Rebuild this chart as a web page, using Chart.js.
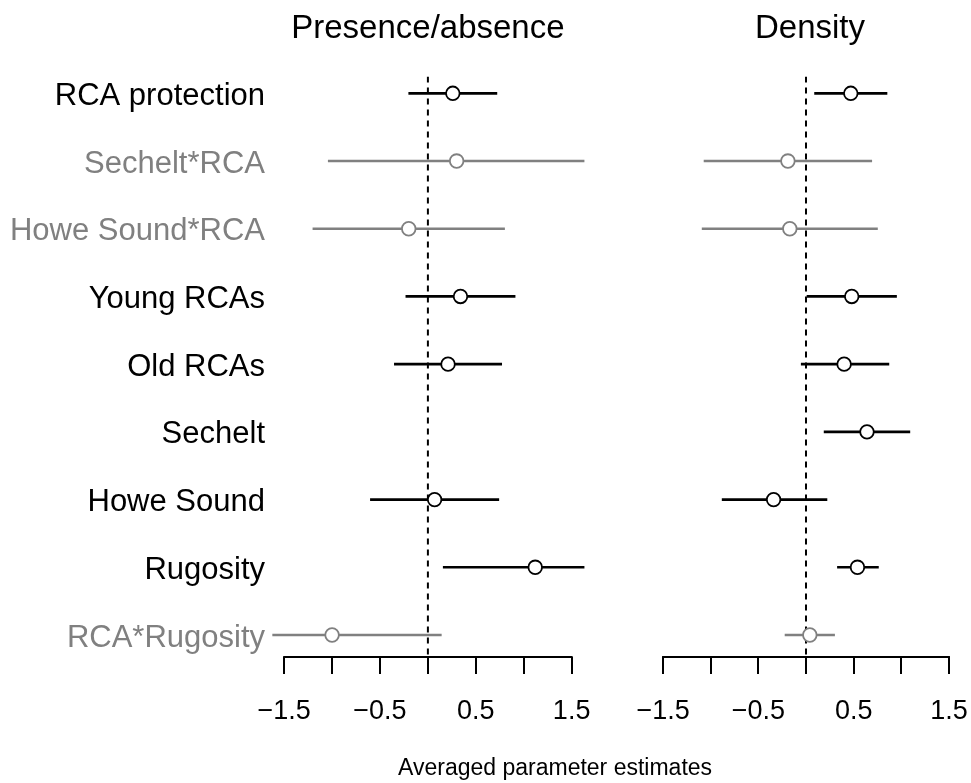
<!DOCTYPE html>
<html>
<head>
<meta charset="utf-8">
<script src="https://cdn.jsdelivr.net/npm/chart.js@4.4.1/dist/chart.umd.min.js"></script>
<style>
    html, body { margin: 0; padding: 0; background: #fff; }
    body { width: 971px; height: 783px; position: relative; overflow: hidden; font-family: "Liberation Sans", Arial, sans-serif; }
    canvas { position: absolute; top: 0; }
    #presChart { left: 0; }
    #densChart { left: 560px; }
    .xlab { position: absolute; left: 398px; top: 753px; font-size: 23px; line-height: 28px; white-space: nowrap; color: #000; }
</style>
</head>
<body>
<canvas id="presChart" width="630" height="783"></canvas>
<canvas id="densChart" width="430" height="783"></canvas>
<div class="xlab">Averaged parameter estimates</div>

<script>
// Row labels (top to bottom)
const categories = ['RCA protection', 'Sechelt*RCA', 'Howe Sound*RCA', 'Young RCAs', 'Old RCAs', 'Sechelt', 'Howe Sound', 'Rugosity', 'RCA*Rugosity'];
// interaction terms are drawn in grey
const greyRows = [false, true, true, false, false, false, false, false, true];

// Presence/absence: estimate and interval ends (null = not in model)
const presEst = [0.26, 0.30, -0.20, 0.34, 0.21, null, 0.07, 1.12, -1.00];
const presLo  = [-0.20, -1.04, -1.20, -0.23, -0.35, null, -0.60, 0.16, -1.62];
const presHi  = [0.72, 1.63, 0.80, 0.91, 0.77, null, 0.74, 1.63, 0.14];

// Density
const densEst = [0.47, -0.19, -0.17, 0.48, 0.40, 0.64, -0.34, 0.54, 0.04];
const densLo  = [0.09, -1.07, -1.09, 0.00, -0.05, 0.19, -0.88, 0.33, -0.22];
const densHi  = [0.85, 0.69, 0.75, 0.95, 0.87, 1.09, 0.22, 0.76, 0.30];

// Axis ticks
const xTicks = [-1.5, -1, -0.5, 0, 0.5, 1, 1.5];
const xTickLabels = [-1.5, -0.5, 0.5, 1.5];

const X_MIN = -1.7, X_MAX = 1.7;
const Y_MIN = -0.247, Y_MAX = 8.325;
const BLACK = '#000000';
const GREY = '#808080';

Chart.defaults.font.family = '"Liberation Sans", Arial, Helvetica, sans-serif';
Chart.defaults.color = BLACK;

const rowColor = i => greyRows[i] ? GREY : BLACK;

function fmtTick(v) {
    if (!xTickLabels.includes(v)) return '';
    return v < 0 ? '\u2212' + Math.abs(v) : String(v);
}

// draws the bottom axis line only between the outer ticks
const axisLinePlugin = {
    id: 'axisLine',
    afterLayout(chart) {
        // nudge the title sideways if asked
        const shift = chart.options.titleShift || 0;
        if (chart.titleBlock && shift) {
            chart.titleBlock.left += shift;
            chart.titleBlock.right += shift;
        }
    },
    afterDraw(chart) {
        const sx = chart.scales.x;
        const ctx = chart.ctx;
        const y = chart.chartArea.bottom;
        ctx.save();
        ctx.strokeStyle = BLACK;
        ctx.lineWidth = 2;
        ctx.beginPath();
        ctx.moveTo(sx.getPixelForValue(xTicks[0]) - 1, y);
        ctx.lineTo(sx.getPixelForValue(xTicks[xTicks.length - 1]) + 1, y);
        ctx.stroke();
        ctx.restore();
    }
};

function buildChart(canvasId, title, est, lo, hi, showLabels, padding, titleShift) {
    const rows = categories.map((c, i) => i).filter(i => est[i] !== null);

    return new Chart(document.getElementById(canvasId), {
        type: 'bar',
        data: {
            datasets: [
                {
                    type: 'scatter',
                    data: rows.map(i => ({ x: est[i], y: i })),
                    pointRadius: 6.8,
                    pointBorderWidth: 1.8,
                    pointBackgroundColor: '#ffffff',
                    pointBorderColor: rows.map(rowColor),
                    pointHoverRadius: 6.8,
                    clip: false
                },
                {
                    type: 'bar',
                    data: rows.map(i => ({ x: [lo[i], hi[i]], y: i })),
                    backgroundColor: rows.map(rowColor),
                    borderWidth: 0,
                    barThickness: 2
                },
                {
                    type: 'line',
                    data: [{ x: 0, y: Y_MIN }, { x: 0, y: Y_MAX }],
                    borderColor: BLACK,
                    borderWidth: 2,
                    borderDash: [6, 5],
                    pointRadius: 0
                }
            ]
        },
        options: {
            responsive: false,
            animation: false,
            indexAxis: 'y',
            titleShift: titleShift,
            layout: { padding: padding },
            plugins: {
                legend: { display: false },
                tooltip: { enabled: false },
                title: {
                    display: true,
                    text: title,
                    fullSize: false,
                    color: BLACK,
                    font: { size: 33, weight: 'normal' },
                    padding: { top: 9, bottom: 28 }
                }
            },
            scales: {
                x: {
                    type: 'linear',
                    min: X_MIN,
                    max: X_MAX,
                    afterBuildTicks: s => { s.ticks = xTicks.map(v => ({ value: v })); },
                    afterFit: s => { s.height = 126; },
                    ticks: {
                        autoSkip: false,
                        maxRotation: 0,
                        padding: 21,
                        color: BLACK,
                        font: { size: 27 },
                        callback: v => fmtTick(v)
                    },
                    grid: {
                        drawOnChartArea: false,
                        drawTicks: true,
                        tickLength: 17,
                        color: BLACK,
                        lineWidth: 2
                    },
                    border: { display: false }
                },
                y: {
                    type: 'linear',
                    display: showLabels,
                    reverse: true,
                    offset: false,
                    min: Y_MIN,
                    max: Y_MAX,
                    afterBuildTicks: s => { s.ticks = categories.map((c, i) => ({ value: i })); },
                    afterFit: s => { if (showLabels) s.width = 265; },
                    ticks: {
                        autoSkip: false,
                        padding: 0,
                        labelOffset: 3,
                        font: { size: 31 },
                        color: ctx => rowColor(ctx.index),
                        callback: v => categories[v]
                    },
                    grid: { display: false, drawTicks: false },
                    border: { display: false }
                }
            }
        },
        plugins: [axisLinePlugin]
    });
}

// chart areas: left 265..591, right 644..970 (page px)
buildChart('presChart', 'Presence/absence', presEst, presLo, presHi, true, { left: 0, right: 39.2, top: 0, bottom: 0 }, 0);
buildChart('densChart', 'Density', densEst, densLo, densHi, false, { left: 84, right: 20.3, top: 0, bottom: 0 }, 4);
</script>
</body>
</html>
